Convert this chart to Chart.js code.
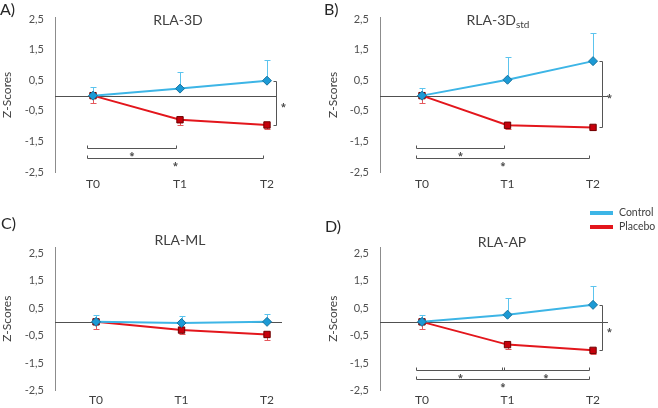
<!DOCTYPE html>
<html>
<head>
<meta charset="utf-8">
<script src="https://cdn.jsdelivr.net/npm/chart.js@4.4.0/dist/chart.umd.min.js"></script>
<style>
body { margin: 0; background: #fff; width: 658px; height: 408px; position: relative; overflow: hidden; }
canvas { position: absolute; }
</style>
</head>
<body>
<canvas id="chartA" width="329" height="200" style="left:0;top:0"></canvas>
<canvas id="chartB" width="338" height="200" style="left:320px;top:0"></canvas>
<canvas id="chartC" width="329" height="208" style="left:0;top:200px"></canvas>
<canvas id="chartD" width="338" height="208" style="left:320px;top:200px"></canvas>
<script>
const timeLabels = ['T0', 'T1', 'T2'];
const yTickValues = [2.5, 1.5, 0.5, -0.5, -1.5, -2.5];
const seriesNames = ['Control', 'Placebo'];

// A) RLA-3D
const controlA = [0, 0.23, 0.49];
const controlErrA = [0.27, 0.53, 0.67];
const placeboA = [0, -0.79, -0.96];
const placeboErrA = [0.24, 0.17, 0.12];
const bracketsA = [[0, 1, 0], [0, 2, 1]];

// B) RLA-3Dstd
const controlB = [0, 0.52, 1.13];
const controlErrB = [0.25, 0.73, 0.92];
const placeboB = [0, -0.97, -1.04];
const placeboErrB = [0.25, 0.12, 0.1];
const bracketsB = [[0, 1, 0], [0, 2, 1]];

// C) RLA-ML
const controlC = [0, -0.04, 0];
const controlErrC = [0.26, 0.25, 0.27];
const placeboC = [0, -0.3, -0.46];
const placeboErrC = [0.26, 0.14, 0.19];
const bracketsC = [];

// D) RLA-AP
const controlD = [0, 0.26, 0.62];
const controlErrD = [0.24, 0.61, 0.69];
const placeboD = [0, -0.83, -1.04];
const placeboErrD = [0.26, 0.17, 0.14];
const bracketsD = [[0, 1, 0], [1, 2, 0], [0, 2, 1]];

const blueLine = '#3db5e6';
const redLine = '#e3161c';
const textGrey = '#404040';
const starFont = "bold 9px 'Open Sans'";

Chart.defaults.font.family = "Lato, 'Open Sans', sans-serif";

const extrasPlugin = {
    id: 'extras',
    beforeDatasetsDraw(chart) {
        const { ctx, chartArea } = chart;
        const x = chart.scales.x, y = chart.scales.y;
        ctx.save();
        // linea dello zero
        const y0 = Math.round(y.getPixelForValue(0)) + 0.5;
        ctx.strokeStyle = '#505050';
        ctx.lineWidth = 1;
        ctx.beginPath();
        ctx.moveTo(chartArea.left, y0);
        ctx.lineTo(chartArea.right, y0);
        ctx.stroke();
        // barre di errore (solo un lato)
        chart.data.datasets.forEach(ds => {
            ctx.strokeStyle = ds.errColor;
            ds.data.forEach((p, i) => {
                const px = Math.round(x.getPixelForValue(p.x)) + 0.5;
                const from = y.getPixelForValue(p.y);
                const to = Math.round(y.getPixelForValue(p.y + ds.errDir * ds.err[i])) + 0.5;
                ctx.beginPath();
                ctx.moveTo(px, from);
                ctx.lineTo(px, to);
                ctx.moveTo(px - 3, to);
                ctx.lineTo(px + 3, to);
                ctx.stroke();
            });
        });
        ctx.restore();
    },
    afterDraw(chart) {
        const cfg = chart.options.plugins.extras;
        const { ctx } = chart;
        const x = chart.scales.x, y = chart.scales.y;
        ctx.save();
        ctx.strokeStyle = '#555555';
        ctx.fillStyle = '#4a4a4a';
        ctx.lineWidth = 1;
        ctx.font = starFont;
        ctx.textAlign = 'center';
        ctx.textBaseline = 'middle';

        // confronto gruppi su T2
        const ctrl = chart.data.datasets[0].data[2].y;
        const plac = chart.data.datasets[1].data[2].y;
        if (cfg.groupStar) {
            const bx = Math.round(x.getPixelForValue(2)) + 9.5;
            const yTop = Math.round(y.getPixelForValue(ctrl)) + 0.5;
            const yBot = Math.round(y.getPixelForValue(plac)) + 0.5;
            ctx.beginPath();
            ctx.moveTo(bx - 3, yTop);
            ctx.lineTo(bx, yTop);
            ctx.lineTo(bx, yBot);
            ctx.lineTo(bx - 3, yBot);
            ctx.stroke();
            ctx.fillText('*', bx + 7, (yTop + yBot) / 2 + 4);
        }

        // confronti nel tempo
        cfg.brackets.forEach(b => {
            const x0 = Math.round(x.getPixelForValue(b[0])) - 5.5;
            const x1 = Math.round(x.getPixelForValue(b[1])) - 3.5;
            const by = Math.round(y.getPixelForValue(cfg.rows[b[2]])) + 0.5;
            ctx.beginPath();
            ctx.moveTo(x0, by - 3);
            ctx.lineTo(x0, by);
            ctx.lineTo(x1, by);
            ctx.lineTo(x1, by - 3);
            ctx.stroke();
            ctx.fillText('*', (x0 + x1) / 2, by + 8);
        });

        // titolo
        ctx.fillStyle = textGrey;
        ctx.font = '14px Lato';
        const w1 = ctx.measureText(cfg.title).width;
        ctx.font = '10px Lato';
        const w2 = cfg.sub ? ctx.measureText(cfg.sub).width : 0;
        const startX = cfg.titleX - (w1 + w2) / 2;
        ctx.textAlign = 'left';
        ctx.font = '14px Lato';
        ctx.fillText(cfg.title, startX, cfg.titleY);
        if (cfg.sub) {
            ctx.font = '10px Lato';
            ctx.fillText(cfg.sub, startX + w1, cfg.titleY + 5);
        }

        // lettera del pannello
        ctx.font = '16px Lato';
        ctx.fillStyle = '#262626';
        ctx.fillText(cfg.letter, cfg.letterX, cfg.letterY);

        // legenda
        if (cfg.legend) {
            const colors = [blueLine, redLine];
            ctx.font = '10.5px Lato';
            ctx.fillStyle = textGrey;
            seriesNames.forEach((name, i) => {
                const ly = 13 + i * 14;
                ctx.strokeStyle = colors[i];
                ctx.lineWidth = 4;
                ctx.beginPath();
                ctx.moveTo(270, ly);
                ctx.lineTo(293, ly);
                ctx.stroke();
                ctx.fillText(name, 299, ly);
            });
        }
        ctx.restore();
    }
};

function makePanel(p) {
    const ctx = document.getElementById(p.id).getContext('2d');
    new Chart(ctx, {
        type: 'line',
        data: {
            datasets: [{
                label: seriesNames[0],
                data: p.ctrl.map((v, i) => ({ x: i, y: v })),
                err: p.ctrlErr,
                errDir: 1,
                errColor: '#5cc4ee',
                borderColor: blueLine,
                borderWidth: 2,
                pointStyle: 'rectRot',
                pointRadius: 4.5,
                pointBackgroundColor: '#1c9ad5',
                pointBorderColor: '#16739e',
                pointBorderWidth: 1
            }, {
                label: seriesNames[1],
                data: p.plac.map((v, i) => ({ x: i, y: v })),
                err: p.placErr,
                errDir: -1,
                errColor: '#e5575b',
                borderColor: redLine,
                borderWidth: 2,
                pointStyle: 'rect',
                pointRadius: 4.5,
                pointBackgroundColor: '#c6000b',
                pointBorderColor: '#6e0000',
                pointBorderWidth: 1
            }]
        },
        options: {
            responsive: false,
            animation: false,
            events: [],
            layout: { padding: p.pad },
            plugins: {
                legend: { display: false },
                tooltip: { enabled: false },
                extras: {
                    title: p.title, sub: p.sub, letter: p.letter,
                    titleX: p.titleX, titleY: p.titleY,
                    letterX: p.letterX, letterY: p.letterY,
                    brackets: p.brackets, rows: p.rows,
                    groupStar: p.groupStar, legend: p.legend
                }
            },
            scales: {
                x: {
                    type: 'linear',
                    min: p.xMin,
                    max: p.xMax,
                    afterBuildTicks: s => { s.ticks = timeLabels.map((t, i) => ({ value: i })); },
                    afterFit: s => { s.height = p.xHeight; },
                    grid: { display: false, drawTicks: false },
                    border: { display: false },
                    ticks: {
                        autoSkip: false,
                        maxRotation: 0,
                        padding: p.xPad,
                        color: textGrey,
                        font: { size: 12 },
                        callback: v => timeLabels[v]
                    }
                },
                y: {
                    min: -2.5,
                    max: p.yMax,
                    afterBuildTicks: s => { s.ticks = yTickValues.map(v => ({ value: v })); },
                    afterFit: s => { s.width = p.yWidth; },
                    grid: { display: false, drawTicks: false },
                    border: { display: true, color: '#8c8c8c', width: 1 },
                    title: {
                        display: true,
                        text: 'Z-Scores',
                        color: textGrey,
                        font: { size: 12 },
                        padding: { top: 0, bottom: 0 }
                    },
                    ticks: {
                        autoSkip: false,
                        padding: 11,
                        color: '#505050',
                        font: { size: 11 },
                        callback: v => v.toFixed(1).replace('.', ',')
                    }
                }
            }
        },
        plugins: [extrasPlugin]
    });
}

makePanel({
    id: 'chartA', letter: 'A)', title: 'RLA-3D', sub: '',
    ctrl: controlA, ctrlErr: controlErrA, plac: placeboA, placErr: placeboErrA, brackets: bracketsA,
    pad: { left: 0, right: 52, top: 15, bottom: 8 }, yWidth: 55, xHeight: 20, xPad: 5,
    xMin: -0.437, xMax: 2.115, yMax: 2.555, rows: [-1.73, -2.05],
    titleX: 178, titleY: 20, letterX: 0, letterY: 10, groupStar: true, legend: false
});
makePanel({
    id: 'chartB', letter: 'B)', title: 'RLA-3D', sub: 'std',
    ctrl: controlB, ctrlErr: controlErrB, plac: placeboB, placErr: placeboErrB, brackets: bracketsB,
    pad: { left: 6, right: 50, top: 15, bottom: 8 }, yWidth: 54, xHeight: 20, xPad: 5,
    xMin: -0.491, xMax: 2.175, yMax: 2.555, rows: [-1.73, -2.05],
    titleX: 178, titleY: 20, letterX: 4, letterY: 10, groupStar: true, legend: false
});
makePanel({
    id: 'chartC', letter: 'C)', title: 'RLA-ML', sub: '',
    ctrl: controlC, ctrlErr: controlErrC, plac: placeboC, placErr: placeboErrC, brackets: bracketsC,
    pad: { left: 0, right: 47, top: 47, bottom: 0 }, yWidth: 55, xHeight: 14, xPad: 3,
    xMin: -0.48, xMax: 2.175, yMax: 2.73, rows: [-1.77, -2.09],
    titleX: 180, titleY: 40, letterX: 1, letterY: 24, groupStar: false, legend: false
});
makePanel({
    id: 'chartD', letter: 'D)', title: 'RLA-AP', sub: '',
    ctrl: controlD, ctrlErr: controlErrD, plac: placeboD, placErr: placeboErrD, brackets: bracketsD,
    pad: { left: 6, right: 50, top: 47, bottom: 0 }, yWidth: 54, xHeight: 14, xPad: 3,
    xMin: -0.491, xMax: 2.175, yMax: 2.73, rows: [-1.77, -2.09],
    titleX: 182, titleY: 42, letterX: 5, letterY: 27, groupStar: true, legend: true
});
</script>
</body>
</html>
